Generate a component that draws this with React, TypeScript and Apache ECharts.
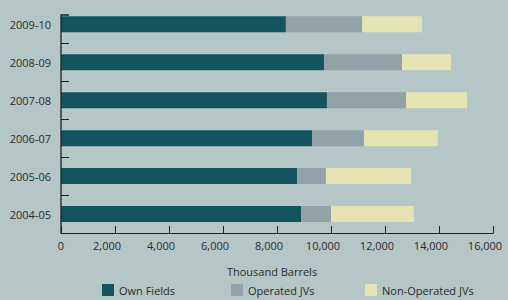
import React, { useEffect, useRef } from "react";
import * as echarts from "echarts";

const categories = ["2009-10", "2008-09", "2007-08", "2006-07", "2005-06", "2004-05"];
const ownFields = [8330, 9740, 9850, 9300, 8740, 8890];
const operatedJVs = [2820, 2890, 2930, 1920, 1070, 1110];
const nonOperatedJVs = [2220, 1810, 2260, 2740, 3150, 3070];
const seriesNames = ["Own Fields", "Operated JVs", "Non-Operated JVs"];
const xTicks = { min: 0, max: 16000, interval: 2000 };

const COLORS = ["#13545E", "#93A1A8", "#E5E3B2"];
const BG = "#B5C6C6";
const TEXT = "#2b2b2b";
const FONT = "Open Sans";

export default function App() {
  const ref = useRef<HTMLDivElement>(null);
  useEffect(() => {
    if (!ref.current) return;
    const chart = echarts.init(ref.current, null, { renderer: "svg" });
    const gridLeft = 61;
    const gridTop = 5.3;
    const gridBottom = 67;
    const legendLefts = [102, 231, 365];
    const dataSets = [ownFields, operatedJVs, nonOperatedJVs];
    chart.setOption({
      animation: false,
      backgroundColor: BG,
      textStyle: { fontFamily: FONT, color: TEXT },
      grid: {
        left: gridLeft,
        right: 15,
        top: gridTop,
        bottom: gridBottom,
        containLabel: false,
        outerBoundsMode: "none",
      },
      xAxis: {
        type: "value",
        min: xTicks.min,
        max: xTicks.max,
        interval: xTicks.interval,
        name: "Thousand Barrels",
        nameLocation: "middle",
        nameGap: 33,
        nameTextStyle: { fontFamily: FONT, fontSize: 11, color: TEXT, padding: [0, 10, 0, 0] },
        axisLine: { show: true, lineStyle: { color: "#222", width: 1 } },
        axisTick: { show: true, inside: true, length: 7, lineStyle: { color: "#222", width: 1 } },
        axisLabel: {
          fontFamily: FONT,
          fontSize: 11,
          color: TEXT,
          margin: 7,
          formatter: (v: number) =>
            v === 0 ? "{z|0}" : `{a|${echarts.format.addCommas(v)}}`,
          rich: {
            z: { fontFamily: FONT, fontSize: 11, color: TEXT },
            a: { fontFamily: FONT, fontSize: 11, color: TEXT, padding: [0, 16, 0, 0] },
          },
        },
        splitLine: { show: false },
      },
      yAxis: {
        type: "category",
        inverse: true,
        data: categories,
        axisLine: { show: false },
        axisTick: {
          show: true,
          inside: true,
          length: 8,
          interval: (index: number) => index !== 0,
          lineStyle: { color: "#222", width: 1 },
        },
        axisLabel: { fontFamily: FONT, fontSize: 11, color: TEXT, margin: 10 },
      },
      legend: seriesNames.map((name, i) => ({
        data: [name],
        left: legendLefts[i],
        top: 284,
        padding: 0,
        itemWidth: 12,
        itemHeight: 12,
        itemGap: 10,
        icon: "rect",
        textStyle: { fontFamily: FONT, fontSize: 11, color: TEXT },
      })),
      graphic: [
        {
          type: "polyline",
          silent: true,
          z: 10,
          shape: { points: [[gridLeft + 8, 15], [gridLeft, 15], [gridLeft, 233]] },
          style: { stroke: "#222", lineWidth: 1.3, fill: null },
        },
      ],
      series: seriesNames.map((name, i) => ({
        name,
        type: "bar",
        stack: "total",
        barWidth: 16,
        data: dataSets[i],
        itemStyle: { color: COLORS[i] },
      })),
    });
    return () => chart.dispose();
  }, []);
  return (
    <div
      ref={ref}
      style={{ position: "fixed", left: 0, top: 0, width: 508, height: 300 }}
    />
  );
}
